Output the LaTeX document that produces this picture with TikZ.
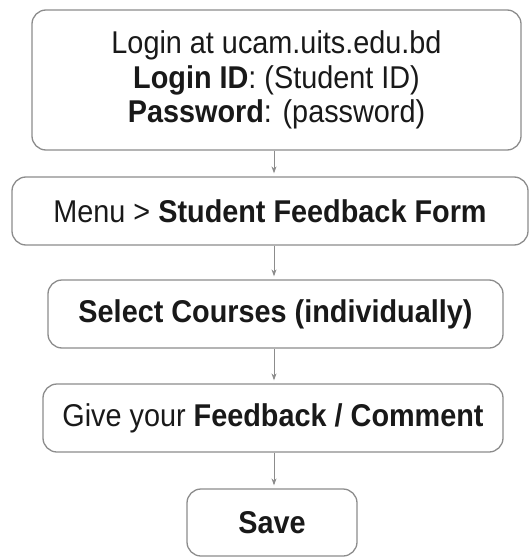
\documentclass[tikz,border=0pt]{standalone}
\usepackage{fontspec}
\setmainfont[FakeStretch=0.915]{Liberation Sans}
\usetikzlibrary{arrows.meta}
\begin{document}
\begin{tikzpicture}[x=1pt,y=-1pt,
  box/.style={draw=black!45,line width=1.3pt,rounded corners=14pt,inner sep=0pt,
    text=black!90,align=center,font=\fontsize{31.5}{34.5}\selectfont},
  arr/.style={draw=black!45,line width=0.9pt,-{Stealth[length=7pt,width=5pt]},shorten >=3pt}]
\useasboundingbox (0,0) rectangle (531,559);
\node[box,minimum width=489pt,minimum height=140pt] (b1) at (276.5,80)
  {Login at ucam.uits.edu.bd\\\textbf{Login ID}: (Student ID)\\\textbf{Password}: (password)};
\node[box,minimum width=516pt,minimum height=68pt] (b2) at (270,211)
  {Menu > \textbf{Student Feedback Form}};
\node[box,minimum width=455pt,minimum height=68pt] (b3) at (275.5,314)
  {\textbf{Select Courses (individually)}};
\node[box,minimum width=460pt,minimum height=68pt] (b4) at (273,418)
  {Give your \textbf{Feedback / Comment}};
\node[box,minimum width=170pt,minimum height=67pt] (b5) at (272,522.5)
  {\textbf{Save}};
\coordinate (ax) at (274,0);
\draw[arr] (b1.south -| ax) -- (b2.north -| ax);
\draw[arr] (b2.south -| ax) -- (b3.north -| ax);
\draw[arr] (b3.south -| ax) -- (b4.north -| ax);
\draw[arr] (b4.south -| ax) -- (b5.north -| ax);
\end{tikzpicture}
\end{document}
